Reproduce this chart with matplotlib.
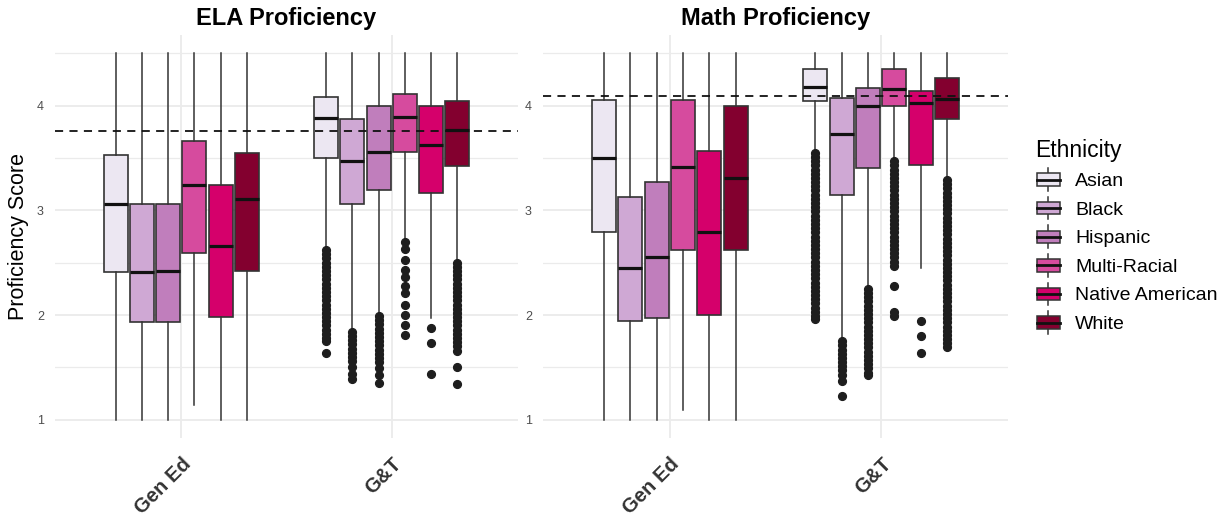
import matplotlib
matplotlib.use("Agg")
import matplotlib.pyplot as plt
from matplotlib.patches import Rectangle
from matplotlib.lines import Line2D
from matplotlib.legend_handler import HandlerBase

plt.rcParams['font.family'] = ['Liberation Sans', 'DejaVu Sans']

# ---------------- data ----------------
groups = ["Gen Ed", "G&T"]
ethnicities = ["Asian", "Black", "Hispanic", "Multi-Racial", "Native American", "White"]
colors = ["#ECE7F2", "#CFA8D4", "#C07EBC", "#D64B9E", "#D5006B", "#83002F"]

# ELA - Gen Ed
ela_gen_q1 = [2.41, 1.93, 1.93, 2.59, 1.98, 2.42]
ela_gen_med = [3.06, 2.41, 2.42, 3.24, 2.66, 3.11]
ela_gen_q3 = [3.53, 3.06, 3.06, 3.66, 3.24, 3.55]
ela_gen_lo = [1.00, 1.00, 1.00, 1.14, 1.00, 1.00]
ela_gen_hi = [4.50, 4.50, 4.50, 4.50, 4.50, 4.50]
# ELA - G&T
ela_gt_q1 = [3.50, 3.06, 3.19, 3.56, 3.17, 3.42]
ela_gt_med = [3.88, 3.47, 3.56, 3.89, 3.62, 3.77]
ela_gt_q3 = [4.08, 3.87, 4.00, 4.11, 4.00, 4.04]
ela_gt_lo = [2.64, 1.87, 2.02, 2.73, 1.97, 2.52]
ela_gt_hi = [4.50, 4.50, 4.50, 4.50, 4.50, 4.50]
ela_gt_out_asian = [2.62, 2.58, 2.54, 2.50, 2.46, 2.42, 2.38, 2.34, 2.30, 2.26, 2.22, 2.18,
                    2.14, 2.10, 2.06, 2.02, 1.98, 1.94, 1.90, 1.86, 1.82, 1.78, 1.75, 1.64]
ela_gt_out_black = [1.84, 1.80, 1.76, 1.72, 1.68, 1.64, 1.60, 1.56, 1.50, 1.44, 1.39]
ela_gt_out_hispanic = [1.99, 1.95, 1.91, 1.87, 1.83, 1.79, 1.75, 1.71, 1.67, 1.63, 1.59,
                       1.55, 1.49, 1.43, 1.35]
ela_gt_out_multi = [2.70, 2.63, 2.53, 2.43, 2.36, 2.28, 2.21, 2.10, 2.00, 1.90, 1.81]
ela_gt_out_native = [1.88, 1.73, 1.44]
ela_gt_out_white = [2.50, 2.46, 2.42, 2.38, 2.34, 2.30, 2.26, 2.22, 2.18, 2.14, 2.10, 2.06,
                    2.02, 1.98, 1.94, 1.90, 1.86, 1.82, 1.78, 1.74, 1.70, 1.66, 1.50, 1.34]
ela_benchmark = 3.76

# Math - Gen Ed
math_gen_q1 = [2.79, 1.94, 1.97, 2.62, 2.00, 2.62]
math_gen_med = [3.50, 2.45, 2.55, 3.41, 2.79, 3.31]
math_gen_q3 = [4.05, 3.13, 3.27, 4.05, 3.57, 4.00]
math_gen_lo = [1.00, 1.00, 1.00, 1.09, 1.00, 1.00]
math_gen_hi = [4.50, 4.50, 4.50, 4.50, 4.50, 4.50]
# Math - G&T
math_gt_q1 = [4.04, 3.15, 3.40, 4.00, 3.43, 3.87]
math_gt_med = [4.18, 3.73, 4.00, 4.16, 4.03, 4.06]
math_gt_q3 = [4.35, 4.07, 4.17, 4.35, 4.14, 4.26]
math_gt_lo = [3.58, 1.78, 2.28, 3.49, 2.45, 3.31]
math_gt_hi = [4.50, 4.50, 4.50, 4.50, 4.50, 4.50]
math_gt_out_asian = [3.55, 3.51, 3.47, 3.43, 3.39, 3.35, 3.31, 3.27, 3.23, 3.19, 3.15, 3.11,
                     3.07, 3.03, 2.99, 2.95, 2.91, 2.87, 2.83, 2.79, 2.75, 2.71, 2.67, 2.63,
                     2.59, 2.55, 2.51, 2.47, 2.43, 2.39, 2.35, 2.31, 2.27, 2.23, 2.19, 2.15,
                     2.11, 2.07, 2.03, 1.99, 1.96]
math_gt_out_black = [1.75, 1.71, 1.67, 1.63, 1.59, 1.55, 1.51, 1.47, 1.43, 1.37, 1.23]
math_gt_out_hispanic = [2.25, 2.21, 2.17, 2.13, 2.09, 2.05, 2.01, 1.97, 1.93, 1.89, 1.85,
                        1.81, 1.77, 1.73, 1.69, 1.65, 1.61, 1.57, 1.53, 1.49, 1.45, 1.43]
math_gt_out_multi = [3.47, 3.43, 3.39, 3.35, 3.31, 3.27, 3.23, 3.19, 3.15, 3.11, 3.07, 3.03,
                     2.99, 2.95, 2.91, 2.87, 2.83, 2.79, 2.75, 2.71, 2.67, 2.63, 2.59, 2.55,
                     2.51, 2.47, 2.28, 2.03, 1.99]
math_gt_out_native = [1.94, 1.80, 1.64]
math_gt_out_white = [3.29, 3.25, 3.21, 3.17, 3.13, 3.09, 3.05, 3.01, 2.97, 2.93, 2.89, 2.85,
                     2.81, 2.77, 2.73, 2.69, 2.65, 2.61, 2.57, 2.53, 2.49, 2.45, 2.41, 2.37,
                     2.33, 2.29, 2.25, 2.21, 2.17, 2.13, 2.09, 2.05, 2.01, 1.97, 1.93, 1.89,
                     1.85, 1.81, 1.77, 1.73, 1.69]
math_benchmark = 4.09

yticks = [1, 2, 3, 4]

ela = {
    "Gen Ed": (ela_gen_q1, ela_gen_med, ela_gen_q3, ela_gen_lo, ela_gen_hi, [[]] * 6),
    "G&T": (ela_gt_q1, ela_gt_med, ela_gt_q3, ela_gt_lo, ela_gt_hi,
            [ela_gt_out_asian, ela_gt_out_black, ela_gt_out_hispanic,
             ela_gt_out_multi, ela_gt_out_native, ela_gt_out_white]),
}
math_ = {
    "Gen Ed": (math_gen_q1, math_gen_med, math_gen_q3, math_gen_lo, math_gen_hi, [[]] * 6),
    "G&T": (math_gt_q1, math_gt_med, math_gt_q3, math_gt_lo, math_gt_hi,
            [math_gt_out_asian, math_gt_out_black, math_gt_out_hispanic,
             math_gt_out_multi, math_gt_out_native, math_gt_out_white]),
}

# ---------------- figure ----------------
fig = plt.figure(figsize=(12.3, 5.16), dpi=100)
W, H = 1230, 516
ax1 = fig.add_axes([55 / W, 1 - 438 / H, 463 / W, 403 / H])
ax2 = fig.add_axes([543 / W, 1 - 438 / H, 465 / W, 403 / H])

EDGE = "#333333"
dodge = 0.125
bw = 0.114


def draw_panel(ax, data, bench, title, ylabel=None):
    for gi, g in enumerate(groups):
        q1, med, q3, lo, hi, outs = data[g]
        stats, pos = [], []
        for j in range(len(ethnicities)):
            stats.append(dict(med=med[j], q1=q1[j], q3=q3[j], whislo=lo[j],
                              whishi=hi[j], fliers=outs[j]))
            pos.append(gi + 1 + (j - 2.5) * dodge)
        res = ax.bxp(stats, positions=pos, widths=bw, patch_artist=True,
                     showcaps=False, manage_ticks=False,
                     boxprops=dict(edgecolor=EDGE, linewidth=1.2),
                     whiskerprops=dict(color=EDGE, linewidth=1.1),
                     medianprops=dict(color="#111111", linewidth=2.3),
                     flierprops=dict(marker="o", markersize=5.6,
                                     markerfacecolor="#1E1E1E",
                                     markeredgecolor="#1E1E1E", linestyle="none"))
        for b, c in zip(res["boxes"], colors):
            b.set_facecolor(c)
        for artlist in res.values():
            for a in artlist:
                a.set_zorder(3)
    ax.axhline(bench, color="#111111", linestyle=(0, (4.5, 3.5)), linewidth=1.3, zorder=5)
    ax.set_xlim(0.4, 2.6)
    ax.set_ylim(0.825, 4.675)
    ax.set_yticks(yticks)
    ax.set_yticks([1.5, 2.5, 3.5, 4.5], minor=True)
    ax.set_xticks([1, 2])
    ax.set_xticklabels(groups, rotation=45, ha="right", va="top",
                       rotation_mode="anchor", fontsize=14.5, fontweight="bold",
                       color="#333333")
    ax.tick_params(axis="y", labelsize=9, labelcolor="#4D4D4D", length=0, pad=8)
    ax.tick_params(axis="x", length=0, pad=12)
    ax.tick_params(which="minor", length=0)
    ax.grid(True, which="major", color="#EBEBEB", linewidth=1.3, zorder=0)
    ax.grid(True, which="minor", axis="y", color="#EBEBEB", linewidth=0.9, zorder=0)
    ax.set_axisbelow(True)
    for s in ax.spines.values():
        s.set_visible(False)
    ax.set_title(title, fontsize=17, fontweight="bold", pad=7)
    if ylabel:
        ax.set_ylabel(ylabel, fontsize=15.5, labelpad=6)


draw_panel(ax1, ela, ela_benchmark, "ELA Proficiency", "Proficiency Score")
draw_panel(ax2, math_, math_benchmark, "Math Proficiency")


class BoxHandler(HandlerBase):
    def create_artists(self, legend, orig_handle, xdescent, ydescent, width, height,
                       fontsize, trans):
        x0, y0 = -xdescent, -ydescent
        fc = orig_handle.get_facecolor()
        bx0, bw_ = x0 + width * 0.05, width * 0.9
        by0, bh = y0 + height * 0.2, height * 0.6
        cx = x0 + width / 2
        w1 = Line2D([cx, cx], [y0 - height * 0.05, by0], color=EDGE, lw=1.1, transform=trans)
        w2 = Line2D([cx, cx], [by0 + bh, y0 + height * 1.05], color=EDGE, lw=1.1, transform=trans)
        r = Rectangle((bx0, by0), bw_, bh, facecolor=fc, edgecolor=EDGE, lw=1.1, transform=trans)
        m = Line2D([bx0, bx0 + bw_], [by0 + bh / 2] * 2, color="#111111", lw=2.0, transform=trans)
        return [w1, w2, r, m]


handles = [Rectangle((0, 0), 1, 1, facecolor=c) for c in colors]
leg = fig.legend(handles, ethnicities, handler_map={Rectangle: BoxHandler()},
                 loc="upper left", bbox_to_anchor=(1018 / W, 1 - 121 / H),
                 frameon=False, fontsize=14, title="Ethnicity", title_fontsize=16.5,
                 handlelength=1.3, handleheight=1.25, labelspacing=0.4,
                 handletextpad=0.75, alignment="left")

fig.savefig("out.png", dpi=100)
